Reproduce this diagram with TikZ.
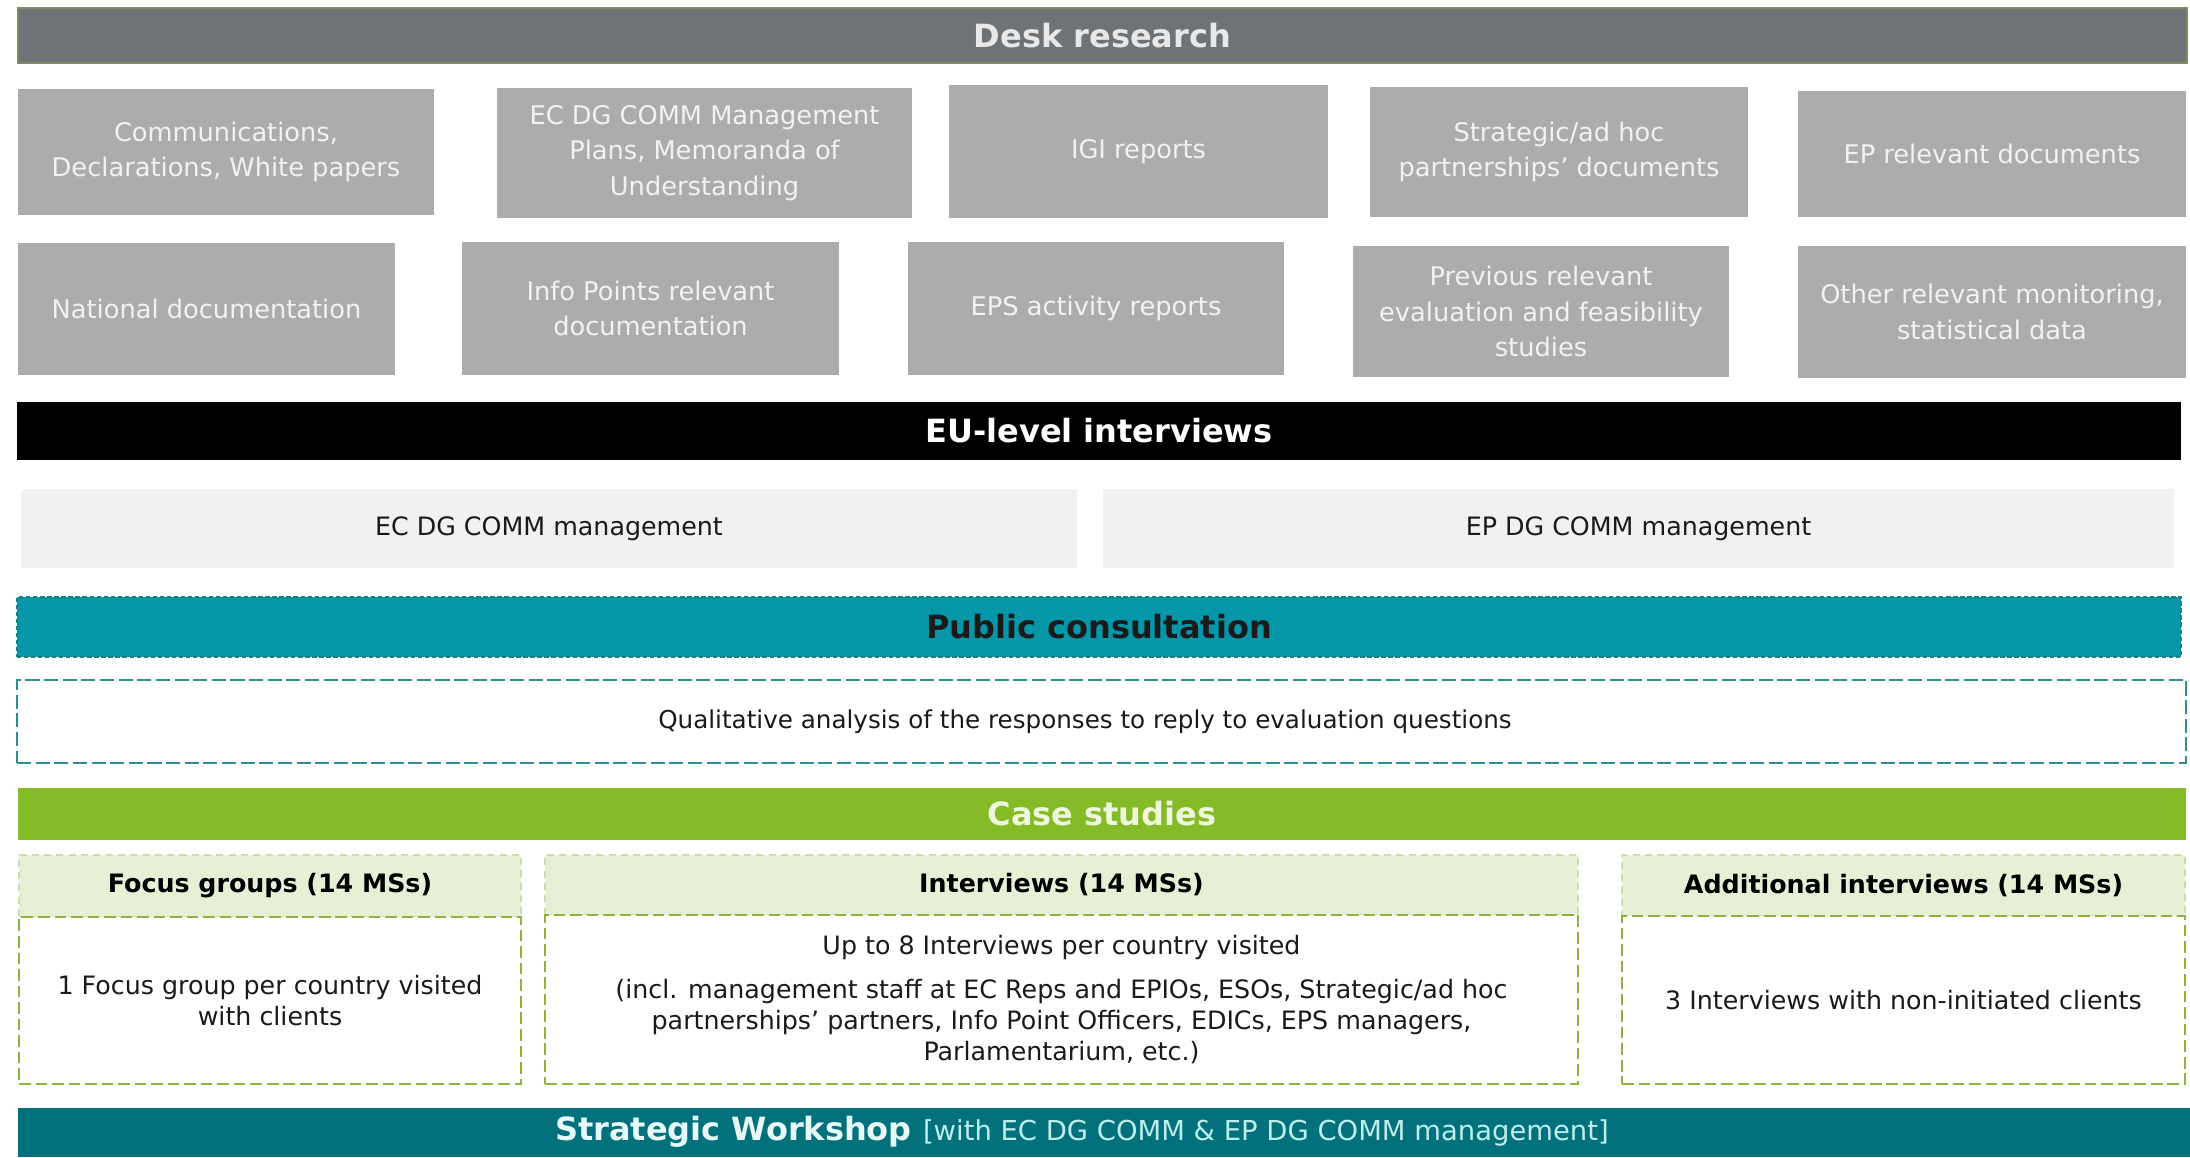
\documentclass[tikz,border=0pt]{standalone}
\usepackage{fontspec}
\setmainfont{DejaVu Sans}

\definecolor{deskgray}{HTML}{6E7377}
\definecolor{deskedge}{HTML}{7E8C62}
\definecolor{desktext}{HTML}{E8E8E8}
\definecolor{docgray}{HTML}{AEACAB}
\definecolor{doctext}{HTML}{F2F2F2}
\definecolor{mgmtgray}{HTML}{F1F1F1}
\definecolor{pcteal}{HTML}{0597A7}
\definecolor{pcedge}{HTML}{1F7E86}
\definecolor{qualedge}{HTML}{2B8E94}
\definecolor{csgreen}{HTML}{86BB28}
\definecolor{cstext}{HTML}{EEF7DC}
\definecolor{csheadfill}{HTML}{E6F0D4}
\definecolor{csheadedge}{HTML}{CADDAA}
\definecolor{csedge}{HTML}{8DB33E}
\definecolor{swteal}{HTML}{03717C}
\definecolor{swtextA}{HTML}{E6FAFA}
\definecolor{swtextB}{HTML}{BDEDED}
\definecolor{darktext}{HTML}{1A1A1A}

% box placed by its corners (x1,y1) and (x2,y2), in pixel units
\newcommand\pbox[7]{%
  \pgfmathsetmacro\pbw{(#4-#2)*0.01}%
  \pgfmathsetmacro\pbh{(#5-#3)*0.01}%
  \node[#6, minimum width=\pbw cm, minimum height=\pbh cm] (#1) at ({(#2+#4)/2},{(#3+#5)/2}) {#7};}

\tikzset{
  base/.style={inner sep=0pt, outer sep=0pt, align=center},
  headfont/.style={font=\fontsize{9.1}{11}\selectfont\bfseries},
  deskbar/.style={base, headfont, fill=deskgray, draw=deskedge, line width=0.6pt, text=desktext},
  docbox/.style={base, fill=docgray, text=doctext, font=\fontsize{7.3}{10}\selectfont},
  eubar/.style={base, headfont, fill=black, text=white},
  mgmt/.style={base, fill=mgmtgray, text=darktext, font=\fontsize{7.2}{9}\selectfont},
  pcbar/.style={base, headfont, fill=pcteal, draw=pcedge, line width=0.5pt, dash pattern=on 1.2pt off 0.8pt, text=darktext},
  qualbox/.style={base, fill=white, draw=qualedge, line width=0.8pt, dash pattern=on 4pt off 1.3pt},
  plaintext/.style={base, text=darktext, font=\fontsize{7.0}{9}\selectfont},
  csbar/.style={base, headfont, fill=csgreen, text=cstext},
  cshead/.style={base, fill=csheadfill, draw=csheadedge, line width=0.4pt, dash pattern=on 2pt off 1.5pt, text=black, font=\fontsize{7.2}{9}\selectfont\bfseries},
  csbody/.style={base, fill=white, draw=csedge, line width=0.8pt, dash pattern=on 3.3pt off 1.4pt, text=darktext, font=\fontsize{7.2}{8.8}\selectfont},
  swbar/.style={base, fill=swteal},
}

\begin{document}
\begin{tikzpicture}[x=0.01cm, y=-0.01cm]
\useasboundingbox[fill=white] (0,0) rectangle (2190,1157);

% Desk research
\pbox{desk}{18}{8}{2187}{63}{deskbar}{Desk research}
\pbox{d1}{18}{89}{434}{215}{docbox}{Communications,\\Declarations, White papers}
\pbox{d2}{497}{88}{912}{218}{docbox}{EC DG COMM Management\\Plans, Memoranda of\\Understanding}
\pbox{d3}{949}{85}{1328}{218}{docbox}{IGI reports}
\pbox{d4}{1370}{87}{1748}{217}{docbox}{Strategic/ad hoc\\partnerships’ documents}
\pbox{d5}{1798}{91}{2186}{217}{docbox}{EP relevant documents}
\pbox{d6}{18}{243}{395}{375}{docbox}{National documentation}
\pbox{d7}{462}{242}{839}{375}{docbox}{Info Points relevant\\documentation}
\pbox{d8}{908}{242}{1284}{375}{docbox}{EPS activity reports}
\pbox{d9}{1353}{246}{1729}{377}{docbox}{Previous relevant\\evaluation and feasibility\\studies}
\pbox{d10}{1798}{246}{2186}{378}{docbox}{Other relevant monitoring,\\statistical data}

% EU-level interviews
\pbox{eu}{17}{402}{2181}{460}{eubar}{EU-level interviews}
\pbox{ec}{21}{489}{1077}{568}{mgmt}{EC DG COMM management}
\pbox{ep}{1103}{489}{2174}{568}{mgmt}{EP DG COMM management}

% Public consultation
\pbox{pc}{17}{597}{2181}{657}{pcbar}{Public consultation}
\pbox{qual}{17}{680}{2186}{763}{qualbox}{}
\node[plaintext] (qualtext) at (1085,722) {Qualitative analysis of the responses to reply to evaluation questions};

% Case studies
\pbox{cs}{18}{788}{2186}{840}{csbar}{Case studies}
\pbox{fgh}{19}{855}{521}{917}{cshead}{Focus groups (14 MSs)}
\pbox{fgb}{19}{917}{521}{1084}{csbody}{1 Focus group per country visited\\with clients}
\pbox{ivh}{545}{855}{1578}{915}{cshead}{Interviews (14 MSs)}
\pbox{ivb}{545}{915}{1578}{1084}{csbody}{Up to 8 Interviews per country visited\\[3.5pt]
(incl. management staff at EC Reps and EPIOs, ESOs, Strategic/ad hoc\\
partnerships’ partners, Info Point Officers, EDICs, EPS managers,\\
Parlamentarium, etc.)}
\pbox{adh}{1622}{855}{2185}{916}{cshead}{Additional interviews (14 MSs)}
\pbox{adb}{1622}{916}{2185}{1084}{csbody}{3 Interviews with non-initiated clients}

% Strategic workshop
\pbox{sw}{18}{1108}{2190}{1157}{swbar}{}
\node[base, text=swtextA] (swtext) at (1082,1132)
  {{\fontsize{9.1}{11}\selectfont\bfseries Strategic Workshop} {\fontsize{7.8}{10}\selectfont\color{swtextB}[with EC DG COMM \& EP DG COMM management]}};
\end{tikzpicture}
\end{document}
